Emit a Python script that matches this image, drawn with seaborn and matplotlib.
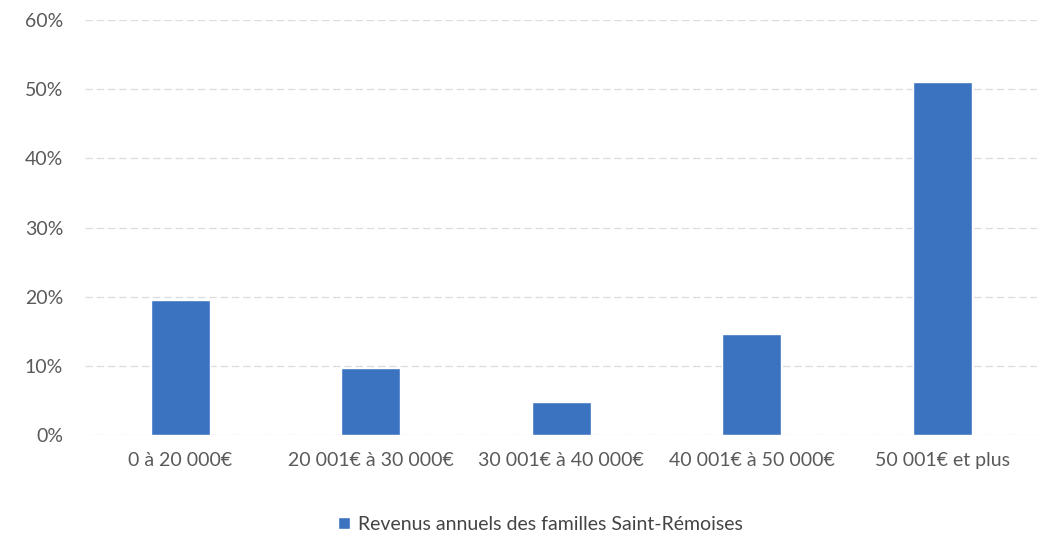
import matplotlib
matplotlib.use("Agg")
import matplotlib.pyplot as plt
import seaborn as sns
import pandas as pd
from matplotlib.ticker import FuncFormatter

categories = ["0 à 20 000€", "20 001€ à 30 000€", "30 001€ à 40 000€", "40 001€ à 50 000€", "50 001€ et plus"]
values = [0.195, 0.097, 0.048, 0.146, 0.51]
series_name = "Revenus annuels des familles Saint-Rémoises"
yticks = [0, 0.1, 0.2, 0.3, 0.4, 0.5, 0.6]

df = pd.DataFrame({"cat": categories, "val": values, "series": series_name})

sns.set_theme(style="white")
plt.rcParams['font.family'] = ['Lato', 'DejaVu Sans']

fig = plt.figure(figsize=(10.53, 5.48), dpi=100)
ax = fig.add_axes([0.081, 0.206, 0.904, 0.7575])

color = "#3b73c0"
sns.barplot(data=df, x="cat", y="val", hue="series", palette=[color], width=0.31,
            ax=ax, saturation=1, legend=True)

ax.set_ylim(0, 0.6)
ax.set_yticks(yticks)
ax.yaxis.set_major_formatter(FuncFormatter(lambda v, p: f"{int(round(v*100))}%"))
ax.set_xlabel("")
ax.set_ylabel("")
for s in ax.spines.values():
    s.set_visible(False)
ax.grid(axis="y", color="#dcdcdc", linestyle=(0, (6, 3)), linewidth=0.9)
ax.set_axisbelow(True)
ax.tick_params(axis="both", length=0, labelsize=14, labelcolor="#5a5a5a")
ax.tick_params(axis="x", pad=12)
ax.tick_params(axis="y", pad=16)

ax.legend(loc="center", bbox_to_anchor=(0.478, -0.215), frameon=False, fontsize=14,
          handlelength=0.6, handleheight=0.6, handletextpad=0.4, labelcolor="#444444")

fig.savefig("out.png", dpi=100)
